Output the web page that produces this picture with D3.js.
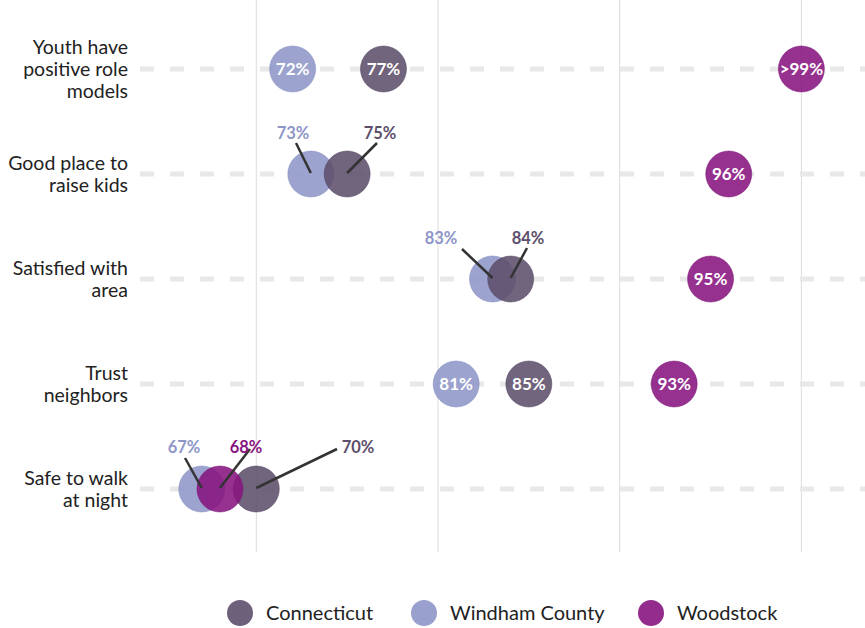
<!DOCTYPE html>
<html><head><meta charset="utf-8">
<script src="https://cdn.jsdelivr.net/npm/d3@7"></script>
<style>body{margin:0;background:#fff}svg{display:block}text{font-family:"Source Sans Pro",Lato,"Noto Sans",sans-serif}</style>
</head><body><svg id="c" width="865" height="628"></svg>
<script>
const categories = ["Youth have\npositive role\nmodels","Good place to\nraise kids","Satisfied with\narea","Trust\nneighbors","Safe to walk\nat night"];
const seriesNames = ["Connecticut","Windham County","Woodstock"];
const connecticut = [77,75,84,85,70];
const windham = [72,73,83,81,67];
const woodstock = [100,96,95,93,68];
const woodstockLabels = [">99%","96%","95%","93%","68%"];
const gridTicks = [70,80,90,100];

const colors = {"Connecticut":"#5d4f6b","Windham County":"#8e96c8","Woodstock":"#87157f"};
const strokeColors = {"Connecticut":"#4e4160","Windham County":"#7f88bd","Woodstock":"#7a0f73"};

const callouts = {
 "1-1":{lx:293,ly:133,x1:296,y1:143},
 "1-0":{lx:380,ly:133,x1:377,y1:143},
 "2-1":{lx:441,ly:238,x1:462,y1:249},
 "2-0":{lx:528,ly:238,x1:527,y1:248},
 "4-1":{lx:184,ly:447,x1:185,y1:458},
 "4-2":{lx:246,ly:447,x1:250,y1:449},
 "4-0":{lx:358,ly:447,x1:337,y1:449}
};

const svg = d3.select("#c");
const x = d3.scaleLinear().domain([63.6,103.5]).range([140,865]);
const y = d3.scalePoint().domain(d3.range(categories.length)).range([69,489]);

svg.append("g").selectAll("line").data(gridTicks).join("line")
 .attr("x1",d=>x(d)).attr("x2",d=>x(d)).attr("y1",0).attr("y2",552)
 .attr("stroke","#dcdcdc").attr("stroke-width",1);

svg.append("g").selectAll("line").data(d3.range(categories.length)).join("line")
 .attr("x1",140).attr("x2",865).attr("y1",d=>y(d)).attr("y2",d=>y(d))
 .attr("stroke","#e8e8e8").attr("stroke-width",5).attr("stroke-dasharray","14 16");

const cl = svg.append("g");
categories.forEach((c,i)=>{
  const lines=c.split("\n");
  const t=cl.append("text").attr("text-anchor","end").attr("font-size",19.5).attr("fill","#222");
  lines.forEach((l,j)=>{
    t.append("tspan").attr("x",128).attr("y",y(i)+(j-(lines.length-1)/2)*22+7).text(l);
  });
});

const series = [
  {name:"Windham County",vals:windham},
  {name:"Connecticut",vals:connecticut},
  {name:"Woodstock",vals:woodstock}
];
const seriesIdx = {"Connecticut":0,"Windham County":1,"Woodstock":2};
const r=23;
const dots=svg.append("g");
series.forEach(s=>{
  s.vals.forEach((v,i)=>{
    dots.append("circle").attr("cx",x(v)).attr("cy",y(i)).attr("r",r)
      .attr("fill",colors[s.name]).attr("fill-opacity",0.88)
      .attr("stroke",strokeColors[s.name]).attr("stroke-opacity",0.5).attr("stroke-width",1);
  });
});
const lab=svg.append("g");
series.forEach(s=>{
  const si=seriesIdx[s.name];
  s.vals.forEach((v,i)=>{
    const txt = s.name==="Woodstock"?woodstockLabels[i]:v+"%";
    const key=i+"-"+si;
    if(callouts[key]){
      const c=callouts[key];
      lab.append("line").attr("x1",c.x1).attr("y1",c.y1).attr("x2",x(v)).attr("y2",y(i)-1)
        .attr("stroke","#333").attr("stroke-width",2.5);
      lab.append("text").attr("x",c.lx).attr("y",c.ly+6).attr("text-anchor","middle")
        .attr("font-size",16.5).attr("font-weight","bold").attr("fill",colors[s.name]).text(txt);
    } else {
      lab.append("text").attr("x",x(v)).attr("y",y(i)+6).attr("text-anchor","middle")
        .attr("font-size",17).attr("font-weight","bold").attr("fill","#fff").text(txt);
    }
  });
});

const legendX=[240,424,651];
const lg=svg.append("g");
seriesNames.forEach((n,i)=>{
  lg.append("circle").attr("cx",legendX[i]).attr("cy",613).attr("r",13).attr("fill",colors[n]).attr("fill-opacity",0.9);
  lg.append("text").attr("x",legendX[i]+26).attr("y",620).attr("font-size",20).attr("fill","#222").text(n);
});
</script></body></html>
